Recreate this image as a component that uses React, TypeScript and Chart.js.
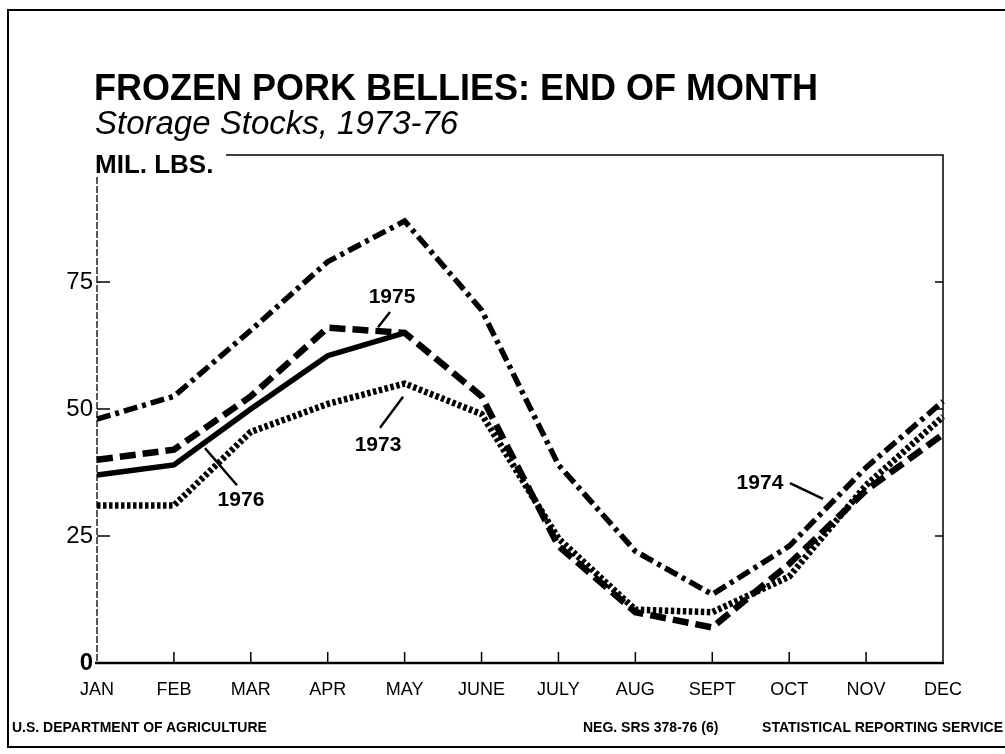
import React, { useEffect, useRef } from "react";
import { Chart, registerables } from "chart.js";

Chart.register(...registerables);

const FONT = '"Liberation Sans", Arial, Helvetica, sans-serif';

const months = ["JAN", "FEB", "MAR", "APR", "MAY", "JUNE", "JULY", "AUG", "SEPT", "OCT", "NOV", "DEC"];
const yTickValues = [0, 25, 50, 75];

const stocks1973 = [31, 31, 45.5, 51, 55, 49, 24.5, 10.5, 10, 17, 35, 48.5];
const stocks1974 = [48, 52.5, 65.5, 79, 87, 69.5, 39, 22, 13.5, 23, 38.5, 51.5];
const stocks1975 = [40, 42, 52.5, 66, 65, 52.5, 23, 10, 7, 19.5, 34, 45];
const stocks1976 = [37, 39, 50, 60.5, 65, null, null, null, null, null, null, null];

// year callouts: label anchor and leader line, in (month index, value) units
const callouts = [
  { text: "1975", lx: 3.836, ly: 72.0, x1: 3.81, y1: 69.1, x2: 3.654, y2: 66.1 },
  { text: "1973", lx: 3.654, ly: 42.9, x1: 3.68, y1: 46.3, x2: 3.98, y2: 52.4 },
  { text: "1976", lx: 1.872, ly: 32.1, x1: 1.82, y1: 35.0, x2: 1.404, y2: 42.3 },
  { text: "1974", lx: 8.62, ly: 35.4, x1: 9.01, y1: 35.4, x2: 9.44, y2: 32.3 },
];

const framePlugin = {
  id: "frame",
  afterDraw(chart: any) {
    const { ctx, chartArea: a, scales } = chart;
    const x = scales.x;
    const y = scales.y;
    ctx.save();
    ctx.strokeStyle = "#000";
    ctx.lineCap = "butt";
    // bottom axis
    ctx.lineWidth = 2.5;
    ctx.beginPath();
    ctx.moveTo(a.left - 2, a.bottom);
    ctx.lineTo(a.right + 1, a.bottom);
    ctx.stroke();
    // right + top
    ctx.lineWidth = 1.5;
    ctx.beginPath();
    ctx.moveTo(226, a.top);
    ctx.lineTo(a.right, a.top);
    ctx.lineTo(a.right, a.bottom);
    ctx.stroke();
    // left axis (broken)
    ctx.lineWidth = 1.3;
    ctx.setLineDash([7, 2]);
    ctx.beginPath();
    ctx.moveTo(a.left, a.top + 22);
    ctx.lineTo(a.left, a.bottom);
    ctx.stroke();
    ctx.setLineDash([]);
    // x ticks
    ctx.lineWidth = 1.5;
    for (let i = 1; i < months.length - 1; i++) {
      const px = x.getPixelForValue(i);
      ctx.beginPath();
      ctx.moveTo(px, a.bottom);
      ctx.lineTo(px, a.bottom - 11);
      ctx.stroke();
    }
    // y ticks
    for (const v of yTickValues) {
      if (v === 0) continue;
      const py = y.getPixelForValue(v);
      ctx.beginPath();
      ctx.moveTo(a.left, py);
      ctx.lineTo(a.left + 13, py);
      ctx.stroke();
      ctx.beginPath();
      ctx.moveTo(a.right, py);
      ctx.lineTo(a.right - 8, py);
      ctx.stroke();
    }
    // callouts
    ctx.fillStyle = "#000";
    ctx.font = `bold 21px ${FONT}`;
    ctx.textAlign = "center";
    ctx.textBaseline = "middle";
    ctx.lineWidth = 2.4;
    for (const c of callouts) {
      ctx.fillText(c.text, x.getPixelForValue(c.lx), y.getPixelForValue(c.ly));
      ctx.beginPath();
      ctx.moveTo(x.getPixelForValue(c.x1), y.getPixelForValue(c.y1));
      ctx.lineTo(x.getPixelForValue(c.x2), y.getPixelForValue(c.y2));
      ctx.stroke();
    }
    ctx.restore();
  },
};

function App() {
  const ref = useRef<HTMLCanvasElement | null>(null);

  useEffect(() => {
    if (!ref.current) return;
    const chart = new Chart(ref.current, {
      type: "line",
      data: {
        labels: months,
        datasets: [
          {
            label: "1973",
            data: stocks1973,
            borderColor: "#000",
            borderWidth: 6.5,
            borderDash: [3.5, 2.5],
            borderCapStyle: "butt",
            borderJoinStyle: "miter",
            pointRadius: 0,
            tension: 0,
          },
          {
            label: "1974",
            data: stocks1974,
            borderColor: "#000",
            borderWidth: 5.5,
            borderDash: [14, 5, 4, 5],
            borderCapStyle: "butt",
            borderJoinStyle: "miter",
            pointRadius: 0,
            tension: 0,
          },
          {
            label: "1975",
            data: stocks1975,
            borderColor: "#000",
            borderWidth: 6.5,
            borderDash: [16, 7],
            borderCapStyle: "butt",
            borderJoinStyle: "miter",
            pointRadius: 0,
            tension: 0,
          },
          {
            label: "1976",
            data: stocks1976,
            borderColor: "#000",
            borderWidth: 5.5,
            borderJoinStyle: "miter",
            pointRadius: 0,
            tension: 0,
            spanGaps: false,
          },
        ],
      },
      options: {
        animation: false,
        responsive: false,
        maintainAspectRatio: false,
        layout: { padding: { left: 0, top: 155, right: 62, bottom: 51 } },
        plugins: {
          legend: { display: false },
          tooltip: { enabled: false },
          title: { display: false },
        },
        scales: {
          x: {
            type: "category",
            offset: false,
            grid: { display: false, drawTicks: false },
            border: { display: false },
            ticks: {
              color: "#000",
              font: { family: FONT, size: 18 },
              padding: 16,
              maxRotation: 0,
              autoSkip: false,
            },
            afterFit: (s: any) => {
              s.height = 40;
            },
          },
          y: {
            min: 0,
            max: 100,
            grid: { display: false, drawTicks: false },
            border: { display: false },
            afterBuildTicks: (s: any) => {
              s.ticks = yTickValues.map((v) => ({ value: v }));
            },
            ticks: {
              color: "#000",
              padding: 4,
              font: (c: any) => ({
                family: FONT,
                size: 24,
                weight: c.tick && c.tick.value === 0 ? "bold" : "normal",
              }),
            },
            afterFit: (s: any) => {
              s.width = 97;
            },
          },
        },
      },
      plugins: [framePlugin],
    } as any);
    return () => chart.destroy();
  }, []);

  const txt = (extra: React.CSSProperties): React.CSSProperties => ({
    position: "absolute",
    fontFamily: FONT,
    color: "#000",
    lineHeight: 1,
    whiteSpace: "nowrap",
    ...extra,
  });

  return (
    <div
      style={{
        position: "absolute",
        left: 0,
        top: 0,
        width: 1005,
        height: 754,
        background: "#fff",
        overflow: "hidden",
      }}
    >
      <div
        style={{
          position: "absolute",
          left: 7,
          top: 9,
          width: 1010,
          height: 735,
          borderTop: "2px solid #000",
          borderLeft: "2px solid #000",
          borderBottom: "2px solid #000",
        }}
      />
      <canvas
        ref={ref}
        width={1005}
        height={754}
        style={{ position: "absolute", left: 0, top: 0, width: 1005, height: 754 }}
      />
      <div style={txt({ left: 94, top: 70, fontSize: 36, fontWeight: "bold" })}>
        FROZEN PORK BELLIES: END OF MONTH
      </div>
      <div style={txt({ left: 95, top: 106, fontSize: 33, fontStyle: "italic" })}>
        Storage Stocks, 1973-76
      </div>
      <div style={txt({ left: 95, top: 151, fontSize: 26, fontWeight: "bold" })}>MIL. LBS.</div>
      <div style={txt({ left: 12, top: 720, fontSize: 14, fontWeight: "bold" })}>
        U.S. DEPARTMENT OF AGRICULTURE
      </div>
      <div style={txt({ left: 583, top: 720, fontSize: 14, fontWeight: "bold" })}>
        NEG. SRS 378-76 (6)
      </div>
      <div style={txt({ right: 2, top: 720, fontSize: 14, fontWeight: "bold" })}>
        STATISTICAL REPORTING SERVICE
      </div>
    </div>
  );
}

export default App;
